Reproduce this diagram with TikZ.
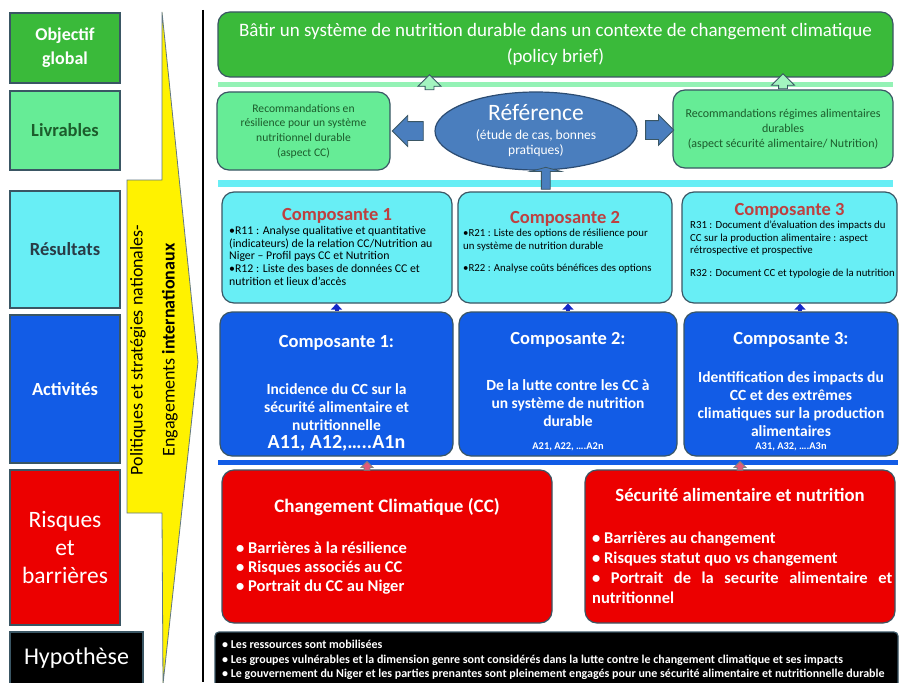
\documentclass[tikz,border=0pt]{standalone}
\usepackage{fontspec}
\setmainfont{Carlito}
\usetikzlibrary{positioning,calc,shapes.arrows,shapes.geometric,arrows.meta}

\definecolor{objgreen}{RGB}{58,186,58}
\definecolor{livgreen}{RGB}{102,236,150}
\definecolor{rescyan}{RGB}{104,238,245}
\definecolor{actblue}{RGB}{18,92,230}
\definecolor{riskred}{RGB}{236,0,0}
\definecolor{refblue}{RGB}{74,126,190}
\definecolor{edgegray}{RGB}{58,86,100}
\definecolor{titlered}{RGB}{190,64,64}
\definecolor{darkgreen}{RGB}{28,92,44}
\definecolor{smallblue}{RGB}{20,40,200}
\definecolor{pinkarrow}{RGB}{225,90,120}

\newcommand{\fsz}[2]{\fontsize{#1}{#2}\selectfont}

\tikzset{
	levelbox/.style={draw=edgegray, line width=1.5pt, minimum width=110pt, inner sep=0pt, align=center},
	block/.style={draw=edgegray, line width=1.2pt, rounded corners=12pt, inner sep=0pt},
	band/.style={inner sep=0pt, minimum width=675pt},
	blockarrow/.style={single arrow, draw=edgegray, line width=0.8pt, single arrow head indent=0pt},
	comptitle/.style={text=titlered, font=\fsz{18.5}{20}\bfseries},
	resbody/.style={anchor=north west, align=left, inner sep=0pt, font=\fsz{10.8}{12.5}},
	acttitle/.style={text=white, font=\fsz{18.5}{20}\bfseries},
	actbody/.style={text=white, align=center, font=\fsz{15.5}{18}\bfseries},
	upsmall/.style={draw=smallblue, line width=4pt, -{Triangle[width=11pt,length=6pt]}},
}

\begin{document}
\begin{tikzpicture}[x=1pt,y=-1pt]
	\useasboundingbox[fill=white] (0,0) rectangle (901,682);

	\node[levelbox, fill=objgreen, text=white, minimum height=70pt, font=\fsz{18}{24}\bfseries] (lobj) at (65,48) {Objectif\\global};
	\node[levelbox, fill=livgreen, text=darkgreen, minimum height=79pt, font=\fsz{18.5}{20}\bfseries] (lliv) at (65,130.5) {Livrables};
	\node[levelbox, fill=rescyan, text=edgegray!70!black, minimum height=117pt, font=\fsz{18.5}{20}\bfseries] (lres) at (65,249.5) {Résultats};
	\node[levelbox, fill=actblue, text=white, minimum height=148pt, font=\fsz{18.5}{20}\bfseries] (lact) at (65,389) {Activités};
	\node[levelbox, fill=riskred, text=white, minimum height=155pt, font=\fsz{23.5}{28}] (lrisk) at (65,547.5) {Risques\\et\\barrières};
	\node[levelbox, fill=black, text=white, minimum width=133pt, minimum height=52pt, font=\fsz{24}{26}] (lhyp) at (76.5,658) {Hypothèse};

	\draw[draw=edgegray!80, line width=0.8pt, fill=yellow] (162,12) -- (198,362) -- (163,684) -- (162,513) -- (127,513) -- (127,180) -- (162,180) -- cycle;
	\node[rotate=90, align=center, font=\fsz{18}{32}] (policy) at (154,350) {Politiques et stratégies nationales-\\Engagements {\bfseries internationaux}};
	\draw[line width=2pt] (203,10) -- (203,682);

	\node[block, fill=objgreen, minimum width=675pt, minimum height=65pt, text=white, align=center, font=\fsz{19}{26}] (goal) at (555.5,44.5) {Bâtir un système de nutrition durable dans un contexte de changement climatique\\(policy brief)};
	\node[band, fill=livgreen!70, minimum height=5pt] (livband) at (555.5,84.5) {};
	\node[block, fill=livgreen, minimum width=173pt, minimum height=78pt, text=darkgreen, align=center, font=\fsz{11.6}{14.7}] (livcc) at (303.5,131) {Recommandations en\\résilience pour un système\\nutritionnel durable\\(aspect CC)};
	\node[block, fill=livgreen, minimum width=220pt, minimum height=78pt, text=darkgreen, align=center, font=\fsz{12}{15}] (livsan) at (783,129) {Recommandations régimes alimentaires\\durables\\(aspect sécurité alimentaire/ Nutrition)};
	\node[ellipse, draw=refblue!60!black, line width=1.2pt, fill=refblue, minimum width=202pt, minimum height=78pt, inner sep=0pt] (ref) at (536,131) {};
	\node[text=white, font=\fsz{23.5}{26}] (reftitle) at (536,113) {Référence};
	\node[text=white, align=center, font=\fsz{13.5}{15}] (refsub) at (536,143) {(étude de cas, bonnes\\pratiques)};

	\node[blockarrow, fill=refblue, shape border rotate=180, inner sep=9pt, single arrow head extend=6pt, minimum height=31pt] (toleft) at ($(ref.west)!0.5!(livcc.east)$) {};
	\node[blockarrow, fill=refblue, shape border rotate=0, inner sep=9pt, single arrow head extend=6pt, minimum height=26pt] (toright) at ($(ref.east)!0.5!(livsan.west)$) {};
	\node[blockarrow, fill=livgreen!60, shape border rotate=90, inner sep=4pt, single arrow head extend=7pt, minimum height=15pt] (upcc) at ($(livcc.north)!0.5!(goal.south)$) {};
	\node[blockarrow, fill=livgreen!60, shape border rotate=90, inner sep=4pt, single arrow head extend=7pt, minimum height=15pt] (upsan) at ($(livsan.north)!0.5!(goal.south -| livsan.north)$) {};

	\node[band, fill=rescyan, minimum height=7pt] (resband) at (555.5,183.5) {};
	\node[blockarrow, fill=refblue, shape border rotate=90, single arrow tip angle=150, inner xsep=4pt, inner ysep=10pt, single arrow head extend=11pt, minimum height=17pt] (upref) at ($(ref.south)!0.5!(resband.south)$) {};

	\node[block, fill=rescyan, minimum width=230pt, minimum height=111pt] (res1) at (337,247.5) {};
	\node[block, fill=rescyan, minimum width=214pt, minimum height=111pt] (res2) at (565,247.5) {};
	\node[block, fill=rescyan, minimum width=215pt, minimum height=111pt] (res3) at (789.5,247.5) {};
	\node[comptitle] (res1t) at (337,216) {Composante 1};
	\node[comptitle] (res2t) at (565,219) {Composante 2};
	\node[comptitle] (res3t) at (789.5,211) {Composante 3};
	\node[resbody, font=\fsz{11.8}{12.7}] (res1b) at (229,226) {•R11 : Analyse qualitative et quantitative\\(indicateurs) de la relation CC/Nutrition au\\Niger – Profil pays CC et Nutrition\\•R12 : Liste des bases de données CC et\\nutrition et lieux d’accès};
	\node[resbody] (res2b) at (463,229) {•R21 : Liste des options de résilience pour\\un système de nutrition durable\\[10pt]•R22 : Analyse coûts bénéfices des options};
	\node[resbody] (res3b) at (690,221) {R31 : Document d’évaluation des impacts du\\CC sur la production alimentaire : aspect\\rétrospective et prospective\\[10pt]R32 : Document CC et typologie de la nutrition};

	\node[block, fill=actblue, minimum width=233pt, minimum height=144pt] (act1) at (336.5,384) {};
	\node[block, fill=actblue, minimum width=218pt, minimum height=144pt] (act2) at (568,384) {};
	\node[block, fill=actblue, minimum width=214pt, minimum height=144pt] (act3) at (791,384) {};
	\node[acttitle] (act1t) at (336.5,343) {Composante 1:};
	\node[acttitle] (act2t) at (568,340) {Composante 2:};
	\node[acttitle] (act3t) at (791,340) {Composante 3:};
	\node[actbody] (act1b) at (336.5,407) {Incidence du CC sur la\\sécurité alimentaire et\\nutritionnelle};
	\node[actbody] (act2b) at (568,403) {De la lutte contre les CC à\\un système de nutrition\\durable};
	\node[actbody] (act3b) at (791,404) {Identification des impacts du\\CC et des extrêmes\\climatiques sur la production\\alimentaires};
	\node[text=white, font=\fsz{20}{22}\bfseries] (act1a) at (336.5,443) {A11, A12,…..A1n};
	\node[text=white, font=\fsz{10.4}{12}\bfseries] (act2a) at (568,447) {A21, A22, ….A2n};
	\node[text=white, font=\fsz{10.4}{12}\bfseries] (act3a) at (791,447) {A31, A32, ….A3n};

	\draw[upsmall] (act1.north) -- (act1.north |- res1.south);
	\draw[upsmall] (act2.north) -- (act2.north |- res2.south);
	\draw[upsmall] ([xshift=9pt]act3.north) -- ([xshift=9pt]act3.north |- res3.south);

	\node[band, fill=actblue, minimum width=680pt, minimum height=5pt] (actband) at (558,462.5) {};

	\node[block, fill=riskred, minimum width=330pt, minimum height=153pt] (risk1) at (387,546.5) {};
	\node[block, fill=riskred, minimum width=310pt, minimum height=153pt] (risk2) at (740,546.5) {};
	\node[text=white, font=\fsz{19}{20}\bfseries] (risk1t) at (387,507) {Changement Climatique (CC)};
	\node[text=white, font=\fsz{18.7}{20}\bfseries] (risk2t) at (740,495) {Sécurité alimentaire et nutrition};
	\node[text=white, anchor=north west, align=left, inner sep=0pt, font=\fsz{16.5}{19}\bfseries] (risk1b) at (236,542) {• Barrières à la résilience\\• Risques associés au CC\\• Portrait du CC au Niger};
	\node[text=white, anchor=north west, align=justify, text width=300pt, inner sep=0pt, font=\fsz{16.5}{20}\bfseries] (risk2b) at (592,532) {• Barrières au changement\\• Risques statut quo vs changement\\• Portrait de la securite alimentaire et \mbox{nutritionnel}};

	\node[blockarrow, fill=pinkarrow, draw=gray, shape border rotate=90, inner sep=2.5pt, single arrow head extend=3pt, minimum height=8pt] (uprisk1) at ($([xshift=-20pt]risk1.north)!0.5!([xshift=-20pt]risk1.north |- actband.south)$) {};
	\node[blockarrow, fill=pinkarrow, draw=gray, shape border rotate=90, inner sep=2.5pt, single arrow head extend=3pt, minimum height=8pt] (uprisk2) at ($(risk2.north)!0.5!(risk2.north |- actband.south)$) {};

	\node[draw=edgegray, line width=1.2pt, fill=black, rounded corners=4pt, minimum width=683pt, minimum height=58pt] (hyp) at (556.5,661) {};
	\node[text=white, anchor=north west, align=left, inner sep=0pt, font=\fsz{12}{14.5}\bfseries] (hypb) at (222,640) {• Les ressources sont mobilisées\\• Les groupes vulnérables et la dimension genre  sont considérés dans la lutte contre le changement climatique et ses impacts\\• Le gouvernement du Niger et les parties prenantes sont pleinement engagés pour une sécurité alimentaire et nutritionnelle durable};
\end{tikzpicture}
\end{document}
